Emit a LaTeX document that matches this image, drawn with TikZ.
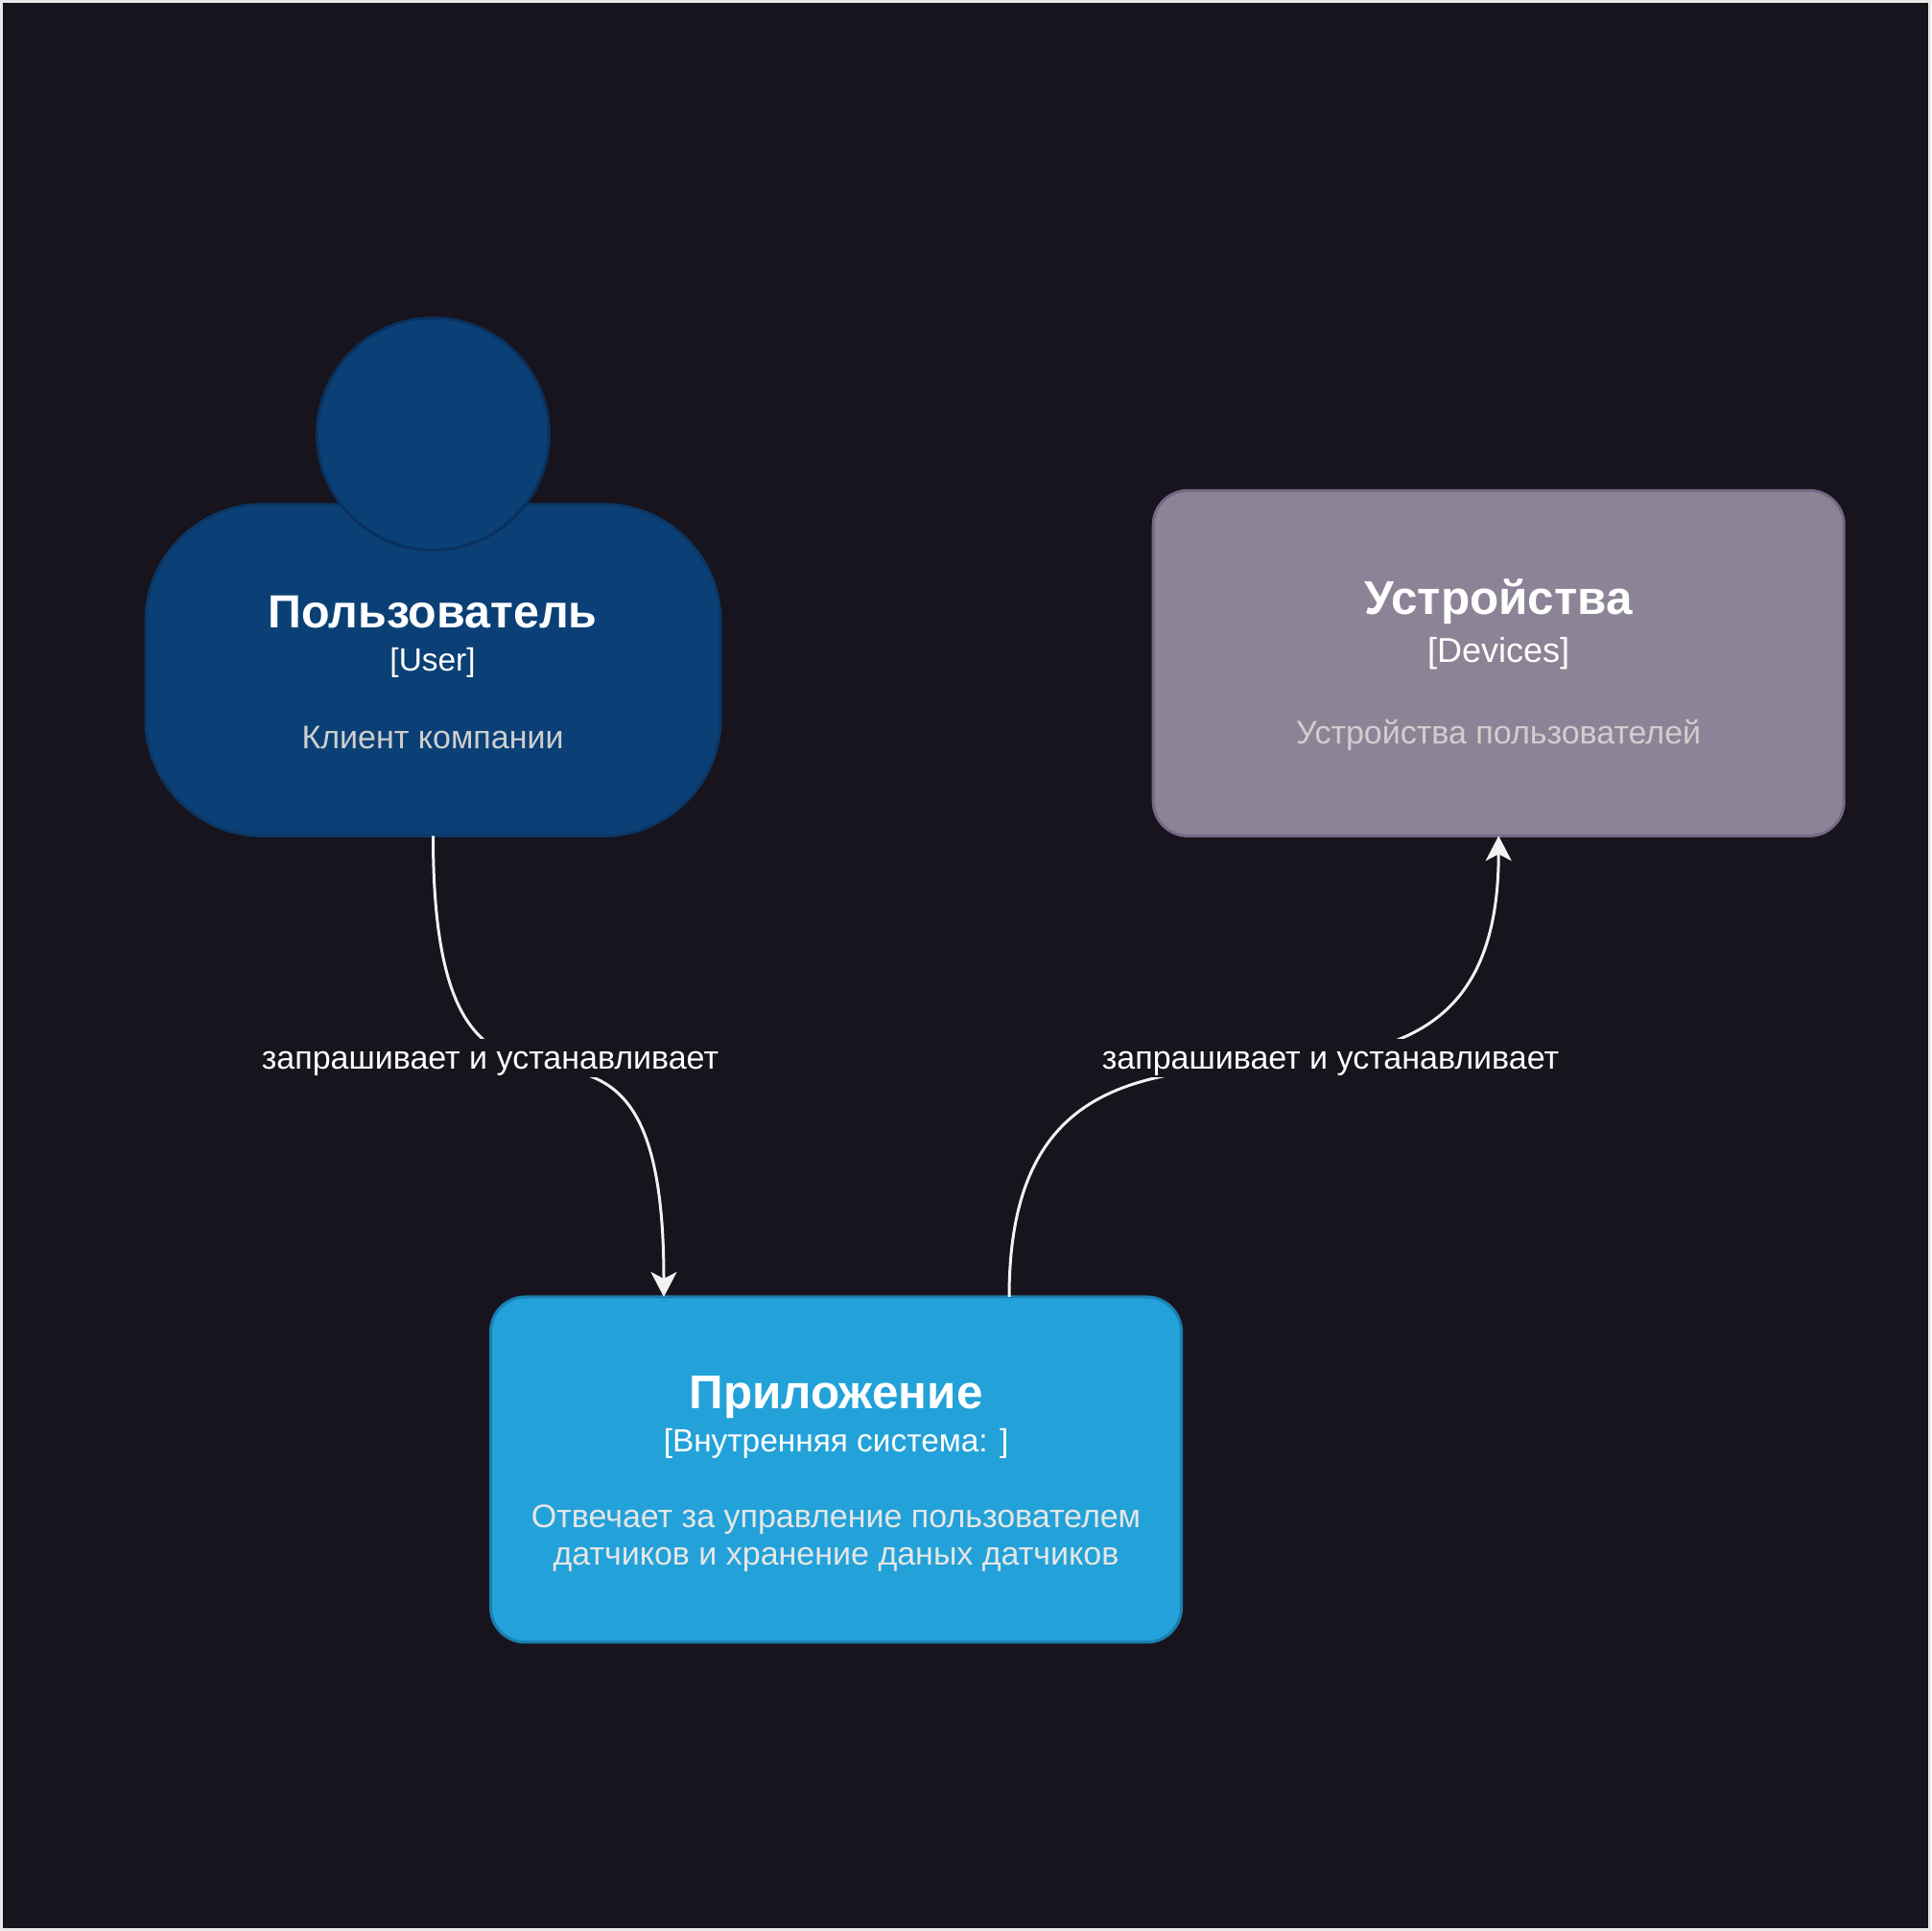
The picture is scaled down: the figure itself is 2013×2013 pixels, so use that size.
\documentclass[tikz,border=0pt]{standalone}
\usepackage{fontspec}
\setmainfont{Liberation Sans}
\usetikzlibrary{arrows.meta, positioning}
\definecolor{bgdark}{HTML}{17141D}
\definecolor{bgedge}{HTML}{E8E8E8}
\definecolor{userfill}{HTML}{0B4076}
\definecolor{userline}{HTML}{0A3766}
\definecolor{headline}{HTML}{0A315E}
\definecolor{devfill}{HTML}{8C8496}
\definecolor{devline}{HTML}{746A87}
\definecolor{appfill}{HTML}{23A2D9}
\definecolor{appline}{HTML}{1A7FB0}
\definecolor{linkcol}{HTML}{F2F2F2}
\definecolor{userdesccol}{HTML}{CECECE}
\definecolor{devdesccol}{HTML}{CFCFCF}
\definecolor{appdesccol}{HTML}{E6E6E6}

\begin{document}
\begin{tikzpicture}[x=0.5pt, y=0.5pt,
    frame/.style={draw=none, fill=bgdark},
    box/.style={
        rectangle, draw, line width=1.5pt, outer sep=0pt,
        minimum width=360pt, minimum height=180pt, rounded corners=18pt
    },
    body/.style={box, minimum width=299.5pt, minimum height=172.8pt, rounded corners=61pt},
    head/.style={circle, draw, line width=1.5pt, outer sep=0pt, minimum size=121pt, inner sep=0pt},
    title/.style={anchor=base, font=\bfseries\fontsize{24.2}{28}\selectfont, text=white},
    bigtitle/.style={title, font=\bfseries\fontsize{24.7}{28}\selectfont},
    tag/.style={anchor=base, font=\fontsize{16.7}{20}\selectfont, text=white},
    desc/.style={anchor=base, font=\fontsize{17}{20}\selectfont},
    linklabel/.style={fill=bgdark, inner sep=0pt, minimum width=240pt, minimum height=20pt,
        text height=13pt, text depth=1pt,
        font=\fontsize{17}{20}\selectfont, text=white},
    link/.style={-{Stealth[length=13pt, width=13.5pt, inset=3.5pt]}, line width=1.5pt, linkcol}
]
\useasboundingbox[fill=bgedge] (0,0) rectangle (2013,2013);
\node[frame, anchor=south west, inner sep=0pt, minimum width=1003.5pt, minimum height=1003.5pt] (back) at (3,3) {};

% Person
\node[body, draw=userline, fill=userfill] (user) at (451.5,1314.4) {};
\node[head, draw=headline, fill=userfill] (userhead) at (451.5,1560.5) {};
\node[title] (usertitle) at (451,1358.7) {Пользователь};
\node[tag] (usertag) at (451,1313.5) {[User]};
\node[desc, text=userdesccol] (userdesc) at (451,1232.2) {Клиент компании};

% Devices
\node[box, draw=devline, fill=devfill] (devices) at (1562.2,1321.6) {};
\node[bigtitle] (devtitle) at (1562.2,1372.7) {Устройства};
\node[tag, font=\fontsize{18}{20}\selectfont] (devtag) at (1562.2,1322) {[Devices]};
\node[desc, text=devdesccol] (devdesc) at (1562.2,1237.7) {Устройства пользователей};

% Application
\node[box, draw=appline, fill=appfill] (app) at (871.5,481) {};
\node[bigtitle] (apptitle) at (871.5,544.5) {Приложение};
\node[tag] (apptag) at (871.5,499.5) {[Внутренняя система: ]};
\node[desc, text=appdesccol] (appdesc) at (871.5,420.7) {Отвечает за управление пользователем};
\node[desc, text=appdesccol] (appdescb) at (871.5,381.7) {датчиков и хранение даных датчиков};

% Links
\coordinate (appin) at (692,661);
\coordinate (appout) at (1052,661);
\draw[link] (user.south) .. controls +(0,-428) and +(0,424) .. (appin);
\draw[link] (appout) .. controls +(0,434) and +(0,-423) .. (devices.south);

% Labels sit on top of the curves
\node[linklabel] (linka) at (511,910) {запрашивает и устанавливает};
\node[linklabel] (linkb) at (1387,910) {запрашивает и устанавливает};

\end{tikzpicture}
\end{document}
